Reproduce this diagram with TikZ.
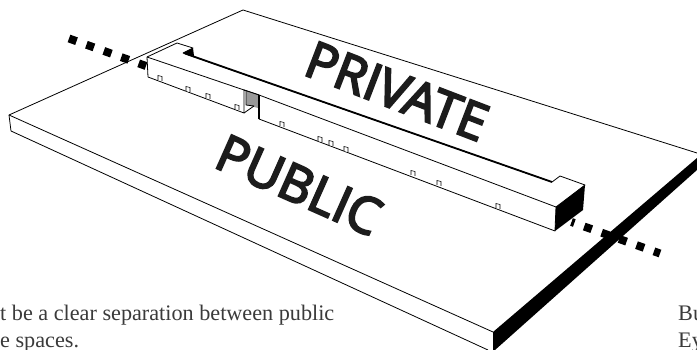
\documentclass[tikz,border=0pt]{standalone}
\usepackage{fontspec}
\setmainfont{Liberation Serif}
\newfontfamily\signfont[FakeBold=4]{Open Sans}
\definecolor{signgray}{HTML}{1C1C1C}
\definecolor{notegray}{HTML}{3A3A3A}
\definecolor{doorgray}{HTML}{999999}
\tikzset{
  edgeline/.style={draw=black,line width=0.8pt,line join=round},
  dashline/.style={line width=8pt,dash pattern=on 8pt off 10.5pt},
  signtext/.style={font=\signfont\fontsize{51}{51}\selectfont,text=signgray,inner sep=0pt},
  notetext/.style={font=\fontsize{22.2}{27}\selectfont,text=notegray,inner sep=0pt,anchor=base west,align=left}
}
\begin{document}
\begin{tikzpicture}[x=1pt,y=-1pt]
\useasboundingbox (0,0) rectangle (697,350);
% slab
\draw[edgeline] (697,153) -- (243,10) -- (9,115) -- (493,332);
\draw[edgeline] (9,115) -- (11,131) -- (488,350);
\fill[black] (493,332) -- (697,158) -- (697,170) -- (495,350) -- (493,350) -- cycle;
% boundary
\draw[dashline] (69,38.5) -- (146,66);
\draw[dashline,dash phase=5pt] (571.5,222) -- (660,253.5);
% building
\draw[edgeline,fill=white] (147,57) -- (177,43) -- (193,48) -- (183,53) -- (552,182) -- (560,176) -- (585,185) -- (556,207) -- (555,231) -- (259,119) -- (259,95) -- (244,90) -- (244,113) -- (148,77) -- cycle;
\fill[black] (183,53) -- (193,48) -- (194,56) -- cycle;
\draw[line width=1.8pt] (185,53.5) -- (552,182);
\fill[black] (556,207) -- (585,185) -- (583,210) -- (555,231) -- cycle;
\draw[edgeline] (244,90) -- (147,57);
\draw[edgeline] (259,95) -- (556,207);
\fill[doorgray] (246,91) -- (259,95) -- (258,108) -- (246,105) -- cycle;
\draw[edgeline] (244,90) -- (259,95);
\draw[edgeline] (246,91) -- (246,105) -- (254,106);
\draw[edgeline] (244,113) -- (254,106);
\draw[line width=1.2pt] (259,95) -- (259,119);
\foreach \x/\y in {160/79,188/90,208/97,237/108,282/125,320/140,331/144,346/150,413/174,439/184,498/207}
  \draw[line width=0.6pt,fill=white] (\x-2,\y+1) -- (\x-2,\y-3.5) -- (\x+2,\y-2.5) -- (\x+2,\y+2);
% labels
\node[signtext,rotate=-21] (privatelabel) at (397,91) {PRIVATE};
\node[signtext,rotate=-24] (publiclabel) at (299,185) {PUBLIC};
\node[notetext] (noteleft) at (0,347) {t be a clear separation between public\\e spaces.};
\node[notetext] (noteright) at (678,347) {Bu\\Ey};
\end{tikzpicture}
\end{document}
